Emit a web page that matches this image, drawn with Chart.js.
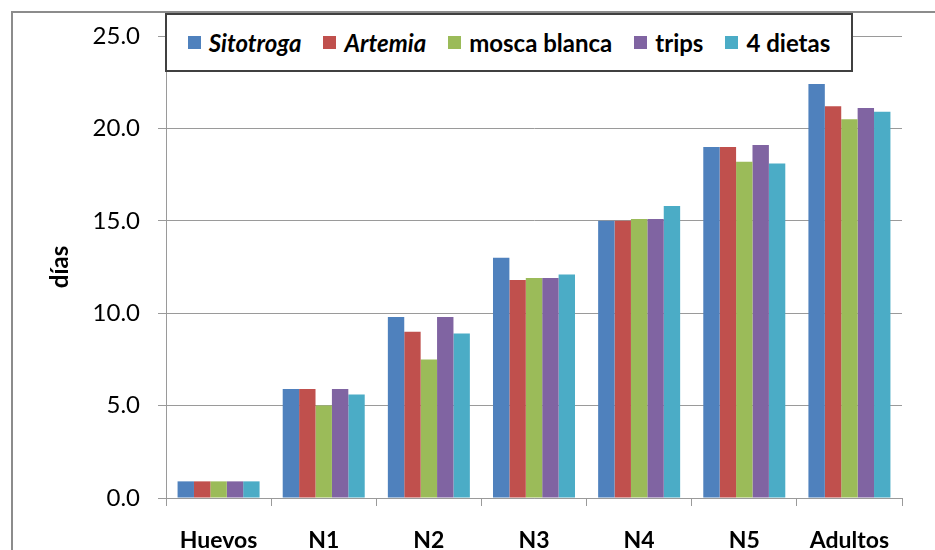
<!DOCTYPE html>
<html>
<head>
<meta charset="utf-8">
<script src="https://cdn.jsdelivr.net/npm/chart.js@4.4.0/dist/chart.umd.min.js"></script>
<style>
  html, body { margin: 0; padding: 0; background: #fff; }
  #wrap { position: relative; width: 935px; height: 550px; overflow: hidden; }
  #frame { position: absolute; left: 11px; top: 11px; width: 1000px; height: 1000px;
           border-left: 2px solid #8c8c8c; border-top: 2px solid #8c8c8c; box-sizing: border-box; }
  canvas { position: absolute; left: 0; top: 0; }
  #legend { position: absolute; left: 165px; top: 13px; width: 688px; height: 59px; box-sizing: border-box;
            border: 2px solid #404040; background: #fff; display: flex; align-items: center; justify-content: center;
            font-family: Lato, "DejaVu Sans", sans-serif; font-weight: bold; font-size: 24px; color: #000; }
  .item { display: flex; align-items: center; margin: 0 11px; }
  .sw { width: 13px; height: 13px; margin-right: 8px; display: inline-block; }
</style>
</head>
<body>
<div id="wrap">
  <div id="frame"></div>
  <canvas id="c" width="935" height="550"></canvas>
  <div id="legend"></div>
</div>
<script>
const categories = ["Huevos", "N1", "N2", "N3", "N4", "N5", "Adultos"];
const seriesNames = ["Sitotroga", "Artemia", "mosca blanca", "trips", "4 dietas"];
const seriesItalic = [true, true, false, false, false];
const seriesColors = ["#4F81BD", "#C0504D", "#9BBB59", "#8064A2", "#4BACC6"];
const sitotroga   = [0.9, 5.9, 9.8, 13.0, 15.0, 19.0, 22.4];
const artemia     = [0.9, 5.9, 9.0, 11.8, 15.0, 19.0, 21.2];
const moscaBlanca = [0.9, 5.0, 7.5, 11.9, 15.1, 18.2, 20.5];
const trips       = [0.9, 5.9, 9.8, 11.9, 15.1, 19.1, 21.1];
const cuatroDietas= [0.9, 5.6, 8.9, 12.1, 15.8, 18.1, 20.9];
const seriesValues = [sitotroga, artemia, moscaBlanca, trips, cuatroDietas];
const yTitle = "días";
const yMin = 0, yMax = 25, yStep = 5;

const datasets = seriesNames.map((n, i) => ({
  label: n,
  data: seriesValues[i],
  backgroundColor: seriesColors[i],
  borderWidth: 0,
  categoryPercentage: 0.78,
  barPercentage: 1.0
}));

// HTML legend (per-item italic)
const leg = document.getElementById('legend');
seriesNames.forEach((n, i) => {
  const it = document.createElement('div');
  it.className = 'item';
  const sw = document.createElement('span');
  sw.className = 'sw';
  sw.style.background = seriesColors[i];
  const tx = document.createElement('span');
  tx.textContent = n;
  if (seriesItalic[i]) tx.style.fontStyle = 'italic';
  it.appendChild(sw); it.appendChild(tx);
  leg.appendChild(it);
});

const gridColor = '#9a9a9a';
new Chart(document.getElementById('c'), {
  type: 'bar',
  data: { labels: categories, datasets },
  options: {
    responsive: false,
    animation: false,
    layout: { padding: { left: 0, right: 33, top: 36, bottom: 0 } },
    plugins: { legend: { display: false }, tooltip: { enabled: false } },
    scales: {
      x: {
        grid: { display: true, drawOnChartArea: false, drawTicks: true, tickLength: 8, color: gridColor, offset: true },
        border: { display: true, color: gridColor, width: 1 },
        ticks: { color: '#000', padding: 21, font: { family: 'Lato', size: 23, weight: 'bold' } },
        afterFit: (s) => { s.height = 52; }
      },
      y: {
        min: yMin, max: yMax,
        ticks: { stepSize: yStep, color: '#000', padding: 18,
                 font: { family: 'Lato', size: 24 },
                 callback: (v) => Number(v).toFixed(1) },
        grid: { color: gridColor, tickLength: 8, drawTicks: true },
        border: { display: true, color: gridColor, width: 1 },
        title: { display: true, text: yTitle, color: '#000', padding: { top: 46, bottom: 0 },
                 font: { family: 'Lato', size: 24, weight: 'bold' } },
        afterFit: (s) => { s.width = 166; }
      }
    }
  }
});
</script>
</body>
</html>
